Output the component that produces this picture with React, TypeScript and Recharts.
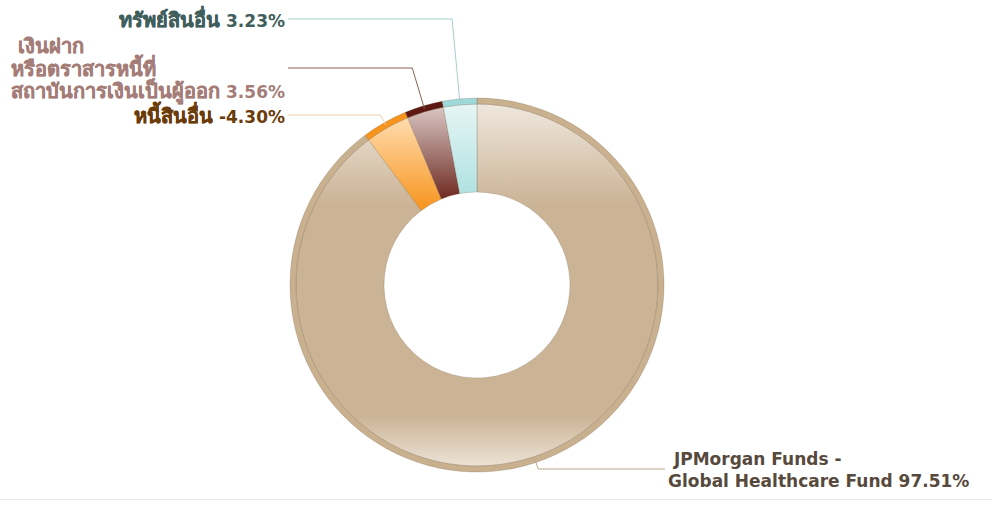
import React from "react";
import { PieChart, Pie, Cell } from "recharts";

const names = [
  " JPMorgan Funds -\nGlobal Healthcare Fund",
  "หนี้สินอื่น",
  " เงินฝาก\nหรือตราสารหนี้ที่\nสถาบันการเงินเป็นผู้ออก",
  "ทรัพย์สินอื่น",
];
const values = [97.51, -4.3, 3.56, 3.23];
const ringColors = ["#c9b08f", "#f7941d", "#5e1a12", "#9ed8d8"];
const gradTop = ["#efe7dd", "#ffdcae", "#d9c6c3", "#e6f5f5"];
const gradBottom = ["#cbb395", "#f7941d", "#6e2a22", "#b0e1e1"];
const labelColors = ["#574a3d", "#6b3c0a", "#a57d78", "#3f5e5c"];
const lineColors = ["#b9a78f", "#efcfae", "#8c605a", "#a9cfcf"];
const labelYs = [469, 115, 68, 19];
const labelRight = [true, false, false, false];

const data = names.map((n, i) => ({ name: n, value: values[i], size: Math.abs(values[i]) }));

const RAD = Math.PI / 180;
const CX = 477;
const CY = 285;

const isThai = (s: string) => /[\u0E00-\u0E7F]/.test(s);

const renderRun = (s: string) => {
  if (!isThai(s)) return s;
  return (
    <span style={{ fontSize: 20, WebkitTextStroke: "0.45px currentColor" } as any}>{s}</span>
  );
};

const renderLabel = (props: any) => {
  const { cx, cy, midAngle, outerRadius, index } = props;
  const ca = Math.cos(-midAngle * RAD);
  const sa = Math.sin(-midAngle * RAD);
  const r0 = outerRadius - 3;
  const sx = cx + r0 * ca;
  const sy = cy + r0 * sa;
  const ly = labelYs[index];
  const t = (ly - cy) / sa;
  const ex = cx + t * ca;
  const right = labelRight[index];
  const endX = right ? 665 : 288;
  const lines = names[index].split("\n");
  const v = values[index];
  const txt = `${v.toFixed(2)}%`;
  const fw = right ? 320 : 285;
  const fx = right ? 668 : 0;
  return (
    <g key={`lbl-${index}`}>
      <polyline
        points={`${sx},${sy} ${ex},${ly} ${endX},${ly}`}
        fill="none"
        stroke={lineColors[index]}
        strokeWidth={1}
      />
      <foreignObject x={fx} y={ly - 60} width={fw} height={122}>
        <div
          style={{
            width: fw,
            height: 122,
            display: "flex",
            alignItems: "center",
            justifyContent: right ? "flex-start" : "flex-end",
          }}
        >
          <span
            style={{
              display: "inline-block",
              textAlign: "left",
              whiteSpace: "pre",
              fontFamily: "'DejaVu Sans', Verdana, sans-serif",
              fontWeight: "bold",
              fontSize: 17,
              lineHeight: "22.5px",
              color: labelColors[index],
            }}
          >
            {lines.map((l, k) => (
              <div key={k} style={{ height: 22.5 }}>
                {renderRun(l)}
                {k === lines.length - 1 ? ` ${txt}` : ""}
              </div>
            ))}
          </span>
        </div>
      </foreignObject>
    </g>
  );
};

export default function App() {
  return (
    <div
      style={{
        position: "absolute",
        left: 0,
        top: 0,
        width: 992,
        height: 506,
        background: "#ffffff",
      }}
    >
      <div
        style={{
          position: "absolute",
          left: 0,
          top: 499,
          width: 992,
          height: 1,
          background: "#ebebeb",
        }}
      />
      <PieChart width={992} height={506} margin={{ top: 0, right: 0, bottom: 0, left: 0 }}>
        <defs>
          {data.map((d, i) => (
            <linearGradient key={i} id={`g${i}`} x1="0" y1="0" x2="0" y2="1">
              {i === 0 ? (
                <>
                  <stop offset="0" stopColor={gradTop[0]} />
                  <stop offset="0.28" stopColor={gradBottom[0]} />
                  <stop offset="0.86" stopColor={gradBottom[0]} />
                  <stop offset="1" stopColor="#ece2d5" />
                </>
              ) : (
                <>
                  <stop offset="0" stopColor={gradTop[i]} />
                  <stop offset="1" stopColor={gradBottom[i]} />
                </>
              )}
            </linearGradient>
          ))}
        </defs>
        <Pie
          data={data}
          dataKey="size"
          nameKey="name"
          cx={CX}
          cy={CY}
          innerRadius={93}
          outerRadius={181}
          startAngle={90}
          endAngle={-270}
          stroke="rgba(90,70,50,0.35)"
          strokeWidth={0.6}
          isAnimationActive={false}
          label={false}
          labelLine={false}
        >
          {data.map((d, i) => (
            <Cell key={i} fill={`url(#g${i})`} />
          ))}
        </Pie>
        <Pie
          data={data}
          dataKey="size"
          nameKey="name"
          cx={CX}
          cy={CY}
          innerRadius={181}
          outerRadius={187}
          startAngle={90}
          endAngle={-270}
          stroke="rgba(90,70,50,0.35)"
          strokeWidth={0.6}
          isAnimationActive={false}
          label={renderLabel}
          labelLine={false}
        >
          {data.map((d, i) => (
            <Cell key={i} fill={ringColors[i]} />
          ))}
        </Pie>
      </PieChart>
    </div>
  );
}
